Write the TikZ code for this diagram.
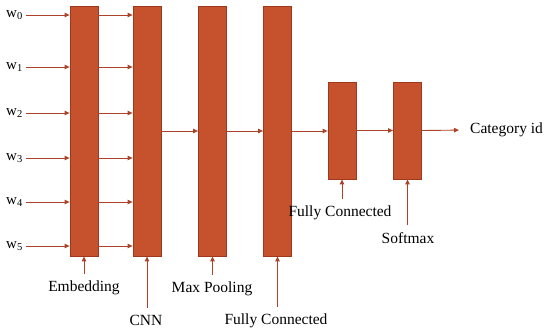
\documentclass[tikz,border=0pt]{standalone}
\usepackage{fontspec}
\setmainfont{Liberation Serif}
\usetikzlibrary{arrows.meta,positioning,calc}

\definecolor{barfill}{RGB}{197,82,45}
\definecolor{bardraw}{RGB}{160,56,30}
\definecolor{linkcol}{RGB}{172,66,40}

\begin{document}
\begin{tikzpicture}[x=1pt, y=-1pt,
    bar/.style={draw=bardraw, fill=barfill, line width=0.8pt, minimum width=28pt, inner sep=0pt},
    link/.style={-{Triangle[length=5pt, width=4.5pt]}, linkcol, line width=0.9pt},
    word/.style={anchor=east, font=\fontsize{15}{17}\selectfont, inner sep=3pt},
    lbl/.style={font=\fontsize{15.5}{18}\selectfont, inner sep=1pt}]
    \useasboundingbox (0,0) rectangle (550,335);

    % Layers
    \node[bar, minimum height=250pt] (emb) at (84,131) {};
    \node[bar, minimum height=250pt] (cnn) at (147,131) {};
    \node[bar, minimum height=250pt] (pool) at (212.5,131) {};
    \node[bar, minimum height=250pt] (fca) at (277.5,131) {};
    \node[bar, minimum height=97pt] (fcb) at (342,130.5) {};
    \node[bar, minimum height=97pt] (soft) at (407.5,130.5) {};

    % Input words
    \foreach \i/\y in {0/15, 1/67, 2/113, 3/158, 4/202, 5/246} {
        \node[word] (w\i) at (26,\y) {w\textsubscript{\i}};
        \draw[link] (w\i.east) -- (emb.west |- w\i);
        \draw[link] (emb.east |- w\i) -- (cnn.west |- w\i);
    }

    % Forward path
    \draw[link] (cnn) -- (pool);
    \draw[link] (pool) -- (fca);
    \draw[link] (fca.east) -- (fcb.west |- fca);
    \draw[link] (fcb) -- (soft);
    \node[lbl, anchor=west] (cat) at (469,130) {Category id};
    \draw[link, shorten >=10pt] (soft.east) -- (cat.west);

    % Layer labels
    \node[lbl] (lemb) at (84,288) {Embedding};
    \node[lbl] (lcnn) at (146,320) {CNN};
    \node[lbl] (lpool) at (212,289) {Max Pooling};
    \node[lbl] (lfca) at (276,321) {Fully Connected};
    \node[lbl] (lfcb) at (340,213) {Fully Connected};
    \node[lbl] (lsoft) at (408,238) {Softmax};
    \foreach \l/\b in {lemb/emb, lcnn/cnn, lpool/pool, lfca/fca, lfcb/fcb, lsoft/soft}
        \draw[link, shorten <=6pt] (\l.north -| \b.south) -- (\b.south);
\end{tikzpicture}
\end{document}
